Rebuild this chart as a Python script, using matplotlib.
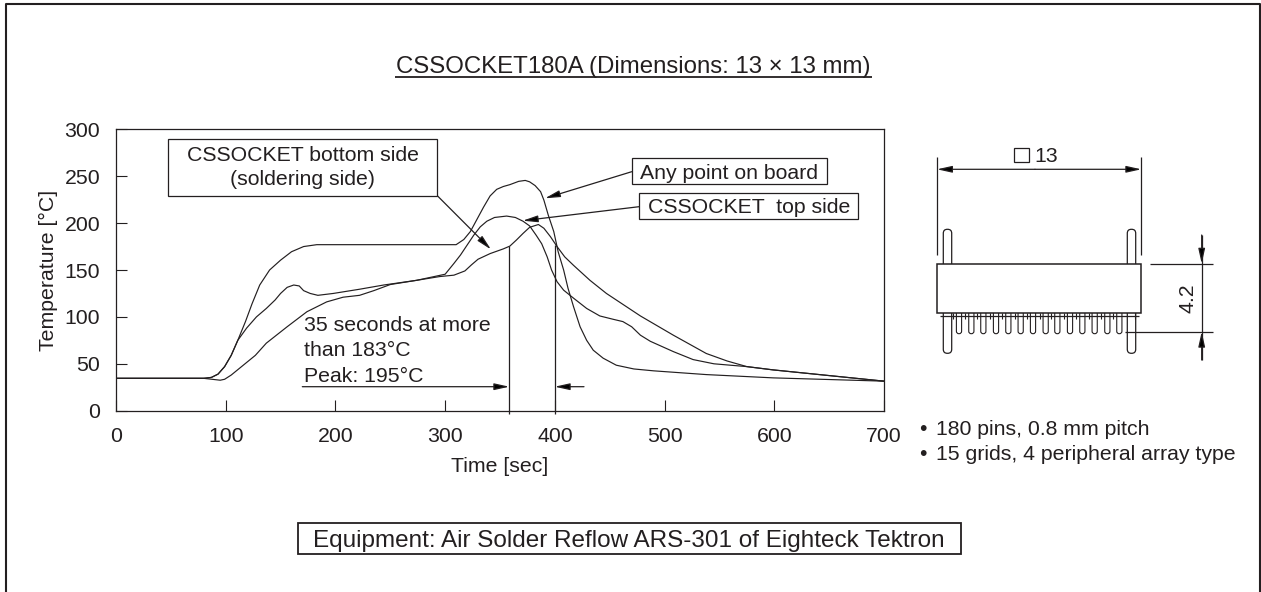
import numpy as np
import matplotlib
matplotlib.use('Agg')
import matplotlib.pyplot as plt
from matplotlib.patches import Rectangle, FancyBboxPatch

plt.rcParams['font.family'] = ['Liberation Sans', 'DejaVu Sans']

W, H = 1261, 592
INK = '#231f20'
FS = 15.3

# curves: time [sec], temperature [degC]
board_t = [0, 80, 87, 93, 99, 105, 111, 118, 124, 131, 140, 150, 160, 171, 183, 310, 317, 323, 329,
           335, 341, 347, 353, 359, 367, 373, 377, 382, 387, 390, 394, 399, 403, 408, 412, 417, 423,
           429, 435, 444, 456, 472, 490, 538, 599, 700]
board_v = [34.5, 34.5, 35.5, 39, 47, 59, 75, 95, 114, 134, 150, 160.5, 169.5, 175, 177, 177, 182.5,
           191, 204, 217, 229, 236, 239, 241, 244.5, 245.5, 244, 240, 233.5, 224.5, 208.5, 191,
           169.5, 150, 130.5, 111, 89.5, 75, 64.5, 56, 48.5, 44.5, 42.5, 38.5, 35, 31.5]

top_t = [0, 80, 87, 93, 99, 105, 111, 119, 128, 137, 145, 150, 156, 162, 167, 171, 177, 184, 198,
         222, 244, 274, 300, 308, 314, 320, 326, 332, 338, 345, 356, 364, 371, 377, 383, 388, 393,
         397, 402, 408, 417, 429, 441, 453, 462, 470, 478, 487, 508, 526, 545, 575, 599, 700]
top_v = [34.5, 34.5, 35.5, 39, 47, 59, 75, 88, 100, 109, 118, 125, 131.5, 134, 133, 128, 125, 123,
         125, 129.5, 134, 139, 145.5, 157, 166, 176.5, 187, 196, 202, 206, 207.5, 206, 202, 197,
         187, 178, 164, 150, 137.5, 128.5, 120, 109, 101, 97.5, 95, 89.5, 80.5, 74, 63, 54.5, 50,
         47, 43.5, 31.5]

bottom_t = [0, 80, 95, 99, 105, 116, 127, 137, 156, 174, 192, 207, 222, 235, 250, 274, 295, 308, 318,
            324, 330, 341, 353, 359, 365, 371, 377, 385, 390, 396, 402, 409, 417, 432, 447, 478, 508,
            538, 557, 575, 599, 700]
bottom_v = [34.5, 34.5, 32.5, 33.5, 38, 48.5, 59, 72, 89.5, 105.5, 116, 121, 123, 128, 134.5, 139,
            143, 144.5, 149, 155.5, 161.5, 167.5, 172.5, 175.5, 182, 189, 195.5, 198.5, 194.5,
            185.5, 175, 164, 155, 139, 125, 101, 80.5, 61, 53, 47, 43.5, 31.5]

x_ticks = [0, 100, 200, 300, 400, 500, 600, 700]
y_ticks = [0, 50, 100, 150, 200, 250, 300]
short_pins = [177, 214, 250, 288, 325, 362, 399, 437, 472, 510, 547, 584, 622, 658]

fig = plt.figure(figsize=(W / 100, H / 100), dpi=100)

# whole figure overlay in pixel coords for frame, boxes, drawing
ov = fig.add_axes([0, 0, 1, 1], zorder=3)
ov.set_xlim(0, W)
ov.set_ylim(H, 0)
ov.axis('off')
ov.patch.set_alpha(0)

ax = fig.add_axes([116 / W, 1 - 410.7 / H, 768 / W, 281.4 / H], zorder=1)
ax.plot(board_t, board_v, color=INK, lw=0.85)
ax.plot(top_t, top_v, color=INK, lw=0.85)
ax.plot(bottom_t, bottom_v, color=INK, lw=0.85)
ax.set_xlim(0, 700)
ax.set_ylim(0, 300)
ax.set_xticks(x_ticks)
ax.set_yticks(y_ticks)
ax.tick_params(direction='in', length=8, width=0.8, color=INK, labelsize=FS, labelcolor=INK, pad=11.5)
ax.set_xlabel('Time [sec]', fontsize=FS, color=INK, labelpad=8)
ax.set_ylabel('Temperature [°C]', fontsize=FS, color=INK, labelpad=4.5)
for s in ax.spines.values():
    s.set_linewidth(0.9)
    s.set_color(INK)


def line(xs, ys, lw=0.9):
    ov.plot(xs, ys, color=INK, lw=lw, solid_capstyle='butt')


def arrow(x0, y0, x1, y1):
    ov.annotate('', xy=(x1, y1), xytext=(x0, y0),
                arrowprops=dict(arrowstyle='-|>,head_length=0.9,head_width=0.2', color=INK, lw=0.9,
                                shrinkA=0, shrinkB=0, fc='black'))


def box(x0, y0, x1, y1, lw=0.9):
    ov.add_patch(Rectangle((x0, y0), x1 - x0, y1 - y0, fc='white', ec=INK, lw=lw, zorder=4))


def label(x, y, s, ha='left', size=FS, **kw):
    ov.text(x, y, s, fontsize=size, color=INK, ha=ha, va='baseline', zorder=5, **kw)


# outer frame
line([6, 6, 1260, 1260], [592, 4, 4, 592], lw=1.5)

# title
label(633, 73, 'CSSOCKET180A (Dimensions: 13 × 13 mm)', ha='center', size=17.3)
line([395, 872], [76.7, 76.7], lw=1.3)

# callouts
box(168.3, 139.3, 437.3, 195.7)
label(303, 160.7, 'CSSOCKET bottom side', ha='center')
label(303, 185, '(soldering side)', ha='center')
arrow(437.3, 195.7, 491, 249.5)
box(631.7, 158.3, 826.7, 184.3)
label(729, 178.7, 'Any point on board', ha='center')
arrow(631.7, 171.7, 545, 198.3)
box(639, 193.3, 858.3, 219.3)
label(749, 213.3, 'CSSOCKET  top side', ha='center')
arrow(639, 206.7, 522.7, 220.7)

# 35 seconds span
label(304, 330.7, '35 seconds at more')
label(304, 356, 'than 183°C')
label(304, 381.7, 'Peak: 195°C')
line([509.3, 509.3], [246, 413.5])
line([554.7, 554.7], [245, 413.5])
arrow(302.3, 386.7, 509.3, 386.7)
arrow(584, 386.7, 554.7, 386.7)

# package drawing
line([937, 937], [157.3, 255])
line([1141.3, 1141.3], [157.3, 255])
arrow(1035, 169.3, 937, 169.3)
arrow(1035, 169.3, 1141.3, 169.3)
ov.add_patch(Rectangle((1014.3, 148.3), 15, 13.7, fc='none', ec=INK, lw=0.9))
label(1034, 161.7, '13')
for cx in (947.5, 1131.5):
    ov.add_patch(FancyBboxPatch((cx - 4.2, 229.3), 8.4, 40, boxstyle='round,pad=0,rounding_size=4', fc='white', ec=INK, lw=0.9, zorder=2))
    ov.add_patch(FancyBboxPatch((cx - 4.2, 305), 8.4, 48.3, boxstyle='round,pad=0,rounding_size=4', fc='white', ec=INK, lw=0.9, zorder=2))
for z in short_pins:
    cx = 900 + z / 3
    ov.add_patch(FancyBboxPatch((cx - 2.6, 305), 5.2, 28.7, boxstyle='round,pad=0,rounding_size=2.5', fc='white', ec=INK, lw=0.8, zorder=2))
ov.add_patch(Rectangle((937, 263.7), 204.3, 49.3, fc='white', ec=INK, lw=1.1, zorder=3))
line([940, 1139], [315.5, 315.5], lw=0.9)
for z in short_pins:
    cx = 900 + z / 3
    line([cx - 6, cx - 6], [313, 319.3], lw=0.8)
line([1135, 1135], [313, 319.3], lw=0.8)

# height dimension
line([1150, 1213], [263.7, 263.7])
line([1125, 1213], [331.7, 331.7])
line([1201.7, 1201.7], [235, 360])
arrow(1201.7, 235, 1201.7, 263.7)
arrow(1201.7, 360, 1201.7, 331.7)
label(1194, 313, '4.2', ha='left', rotation=90, rotation_mode='anchor')

# notes
label(919, 435, '•')
label(936, 435, '180 pins, 0.8 mm pitch')
label(919, 460, '•')
label(936, 460, '15 grids, 4 peripheral array type')

# equipment
box(298, 523, 961, 554, lw=1.3)
label(629, 547, 'Equipment: Air Solder Reflow ARS-301 of Eighteck Tektron', ha='center', size=17.5)

fig.savefig('out.png', dpi=100)
